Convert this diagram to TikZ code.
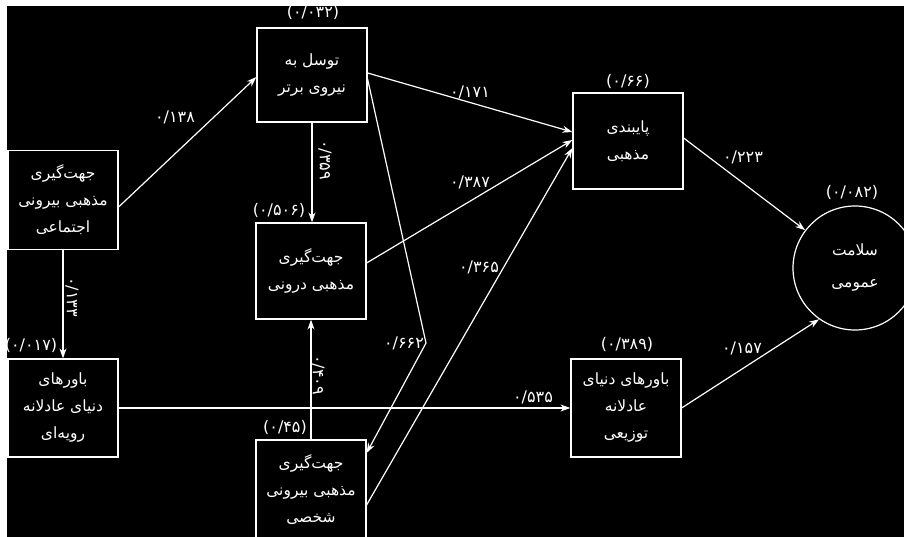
\documentclass[tikz,border=0pt]{standalone}
\usepackage{fontspec}
\usetikzlibrary{arrows.meta,calc}
\TeXXeTstate=1
\newfontfamily\fa[Script=Arabic]{DejaVu Sans}
\tikzset{
  box/.style={draw=white, line width=1.2pt, minimum width=110pt, minimum height=96pt,
    inner sep=0pt, text=white, align=center, font=\fa\fontsize{15.5}{27}\selectfont},
  lab/.style={text=white, font=\fa\fontsize{16}{18}\selectfont, inner sep=1pt},
  arr/.style={draw=white, line width=1.2pt, -{Stealth[length=10pt,width=7pt]}},
}
\begin{document}
\begin{tikzpicture}[x=1pt,y=-1pt]
\useasboundingbox (0,0) rectangle (904,537);
\fill[black] (0,0) rectangle (904,537);

% boxes
\node[box, minimum height=94pt] (b1) at (312,75) {\beginR توسل به\endR\\\beginR نیروی برتر\endR};
\node[box, minimum height=99pt] (b2) at (63,200) {\beginR جهت‌گیری\endR\\\beginR مذهبی بیرونی\endR\\\beginR اجتماعی\endR};
\node[box] (b3) at (311,271) {\beginR جهت‌گیری\endR\\\beginR مذهبی درونی\endR};
\node[box, minimum height=98pt] (b4) at (63,408) {\beginR باورهای\endR\\\beginR دنیای عادلانه\endR\\\beginR رویه‌ای\endR};
\node[box, minimum height=100pt] (b5) at (311,490) {\beginR جهت‌گیری\endR\\\beginR مذهبی بیرونی\endR\\\beginR شخصی\endR};
\node[box] (b6) at (628,141) {\beginR پایبندی\endR\\\beginR مذهبی\endR};
\node[box, minimum height=98pt] (b7) at (626,408) {\beginR باورهای دنیای\endR\\\beginR عادلانه\endR\\\beginR توزیعی\endR};
\node[circle, draw=white, line width=1.2pt, minimum size=124pt, inner sep=0pt, text=white,
  align=center, font=\fa\fontsize{15.5}{32}\selectfont] (c) at (855,268) {\beginR سلامت\endR\\\beginR عمومی\endR};

% R^2 labels
\node[lab] (r1) at (313,12) {(۰/۰۳۲)};
\node[lab] (r3) at (279,210) {(۰/۵۰۶)};
\node[lab] (r4) at (31,345) {(۰/۰۱۷)};
\node[lab] (r5) at (285,427) {(۰/۴۵)};
\node[lab] (r6) at (628,81) {(۰/۶۶)};
\node[lab] (r7) at (627,344) {(۰/۳۸۹)};
\node[lab] (rc) at (852,192) {(۰/۰۸۲)};

% connectors
\coordinate (bend) at (426,343);
\draw[arr] ([yshift=-7pt]b2.east) -- ([yshift=-2pt]b1.west);
\draw[arr] ([yshift=2pt]b1.east) -- ([yshift=9pt]b6.west);
\draw[arr] ([yshift=8pt]b3.east) -- ([yshift=1pt]b6.west);
\draw[arr] ([yshift=-15pt]b5.east) -- ([yshift=-7pt]b6.west);
\draw[arr] ([yshift=-4pt]b1.east) -- (bend) -- ([yshift=37pt]b5.east);
\draw[arr] (b1.south) -- (b1.south |- b3.north);
\draw[arr] (b5.north) -- (b5.north |- b3.south);
\draw[arr] (b2.south) -- (b2.south |- b4.north);
\draw[arr] (b4.east) -- (b4.east -| b7.west);
\draw[arr] ([yshift=3pt]b6.east) -- (c);
\draw[arr] (b7.east) -- (c.-125);

% path labels
\node[lab] (p1) at (175,117) {۰/۱۳۸};
\node[lab] (p2) at (470,92) {۰/۱۷۱};
\node[lab] (p3) at (470,182) {۰/۳۸۷};
\node[lab] (p4) at (479,267) {۰/۳۶۵};
\node[lab] (p5) at (404,343) {۰/۶۶۲};
\node[lab, rotate=-90] (p6) at (325,160) {۰/۳۵۹};
\node[lab, rotate=-90] (p7) at (318,375) {۰/۴۰۹};
\node[lab, rotate=-90] (p8) at (72,297) {۰/۱۳۳};
\node[lab] (p9) at (533,397) {۰/۵۳۵};
\node[lab] (p10) at (743,157) {۰/۲۲۳};
\node[lab] (p11) at (742,348) {۰/۱۵۷};

% white margins
\fill[white] (0,0) rectangle (904,6);
\fill[white] (0,0) rectangle (7,537);
\end{tikzpicture}
\end{document}
